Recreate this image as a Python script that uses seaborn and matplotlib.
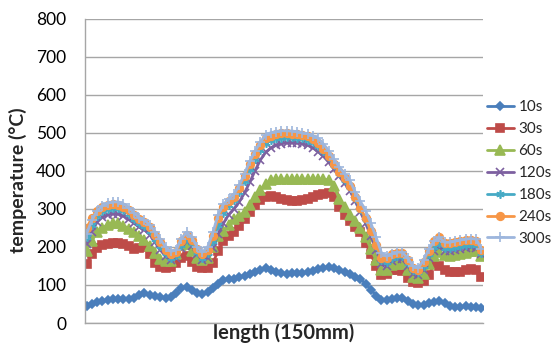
import matplotlib
matplotlib.use("Agg")
import matplotlib.pyplot as plt
import seaborn as sns
import numpy as np
import pandas as pd

# position along the 150 mm length (mm)
length_mm = list(range(0, 151, 2))

t10s = [45, 50, 54, 57, 60, 62, 62, 63, 63, 65, 73, 78, 74, 70, 67, 66, 68, 80, 92, 94,
        86, 78, 76, 82, 92, 102, 112, 115, 116, 120, 124, 128, 135, 140, 144, 140, 134, 131, 130, 131,
        131, 132, 134, 137, 141, 145, 147, 144, 138, 133, 128, 122, 116, 103, 88, 72, 60, 60, 63, 66,
        66, 58, 50, 46, 48, 52, 55, 58, 52, 45, 42, 43, 44, 43, 43, 39]
t30s = [155, 180, 198, 205, 208, 210, 210, 207, 202, 195, 198, 200, 180, 158, 147, 144, 147, 158, 172, 175,
        160, 147, 144, 145, 158, 190, 215, 228, 240, 256, 272, 292, 310, 322, 330, 333, 330, 326, 323, 321,
        321, 323, 327, 332, 336, 339, 341, 330, 305, 285, 268, 252, 240, 210, 180, 150, 125, 128, 138, 140,
        136, 118, 108, 105, 110, 125, 155, 150, 140, 133, 133, 134, 138, 143, 140, 122]
t60s = [190, 215, 240, 250, 258, 263, 262, 256, 248, 238, 228, 218, 203, 185, 168, 162, 162, 180, 205, 208,
        188, 170, 165, 170, 200, 228, 242, 258, 272, 282, 292, 310, 330, 350, 366, 376, 378, 378, 378, 378,
        378, 378, 378, 378, 378, 378, 376, 360, 325, 305, 285, 268, 250, 225, 195, 165, 140, 140, 152, 155,
        155, 138, 122, 118, 130, 155, 175, 186, 178, 175, 178, 182, 185, 188, 190, 175]
t120s = [208, 240, 265, 278, 284, 287, 286, 281, 272, 262, 252, 245, 232, 212, 192, 175, 165, 170, 198, 215,
         203, 180, 166, 172, 198, 235, 262, 285, 300, 318, 342, 370, 400, 428, 448, 460, 467, 471, 473, 474,
         473, 471, 467, 460, 450, 438, 422, 404, 385, 367, 348, 320, 292, 262, 228, 192, 155, 150, 163, 168,
         167, 150, 130, 126, 140, 170, 190, 200, 190, 190, 192, 195, 197, 199, 198, 180]
t180s = [225, 258, 282, 295, 300, 302, 301, 296, 286, 274, 263, 255, 242, 222, 202, 183, 172, 178, 206, 222,
         210, 186, 172, 183, 215, 258, 290, 310, 322, 345, 373, 405, 432, 455, 472, 480, 485, 487, 488, 488,
         487, 485, 481, 475, 466, 452, 435, 415, 395, 376, 357, 328, 300, 272, 240, 203, 165, 160, 172, 176,
         175, 158, 138, 133, 150, 180, 200, 210, 198, 198, 200, 203, 205, 207, 205, 185]
t240s = [250, 275, 295, 305, 310, 312, 311, 306, 296, 283, 272, 265, 252, 232, 212, 192, 180, 186, 215, 230,
         218, 195, 180, 192, 228, 275, 305, 320, 332, 355, 385, 418, 445, 468, 485, 492, 496, 498, 498, 497,
         496, 494, 490, 484, 474, 458, 440, 418, 398, 380, 360, 330, 303, 275, 242, 205, 172, 170, 180, 185,
         184, 165, 145, 140, 160, 190, 215, 226, 210, 210, 212, 215, 217, 218, 215, 192]
t300s = [235, 270, 295, 308, 315, 318, 318, 313, 303, 290, 277, 270, 258, 240, 220, 200, 188, 192, 222, 238,
         225, 200, 186, 200, 238, 285, 312, 326, 338, 362, 392, 425, 452, 475, 494, 500, 503, 505, 505, 504,
         503, 500, 497, 492, 485, 470, 452, 430, 410, 392, 375, 345, 320, 295, 262, 225, 185, 175, 182, 186,
         186, 170, 150, 145, 165, 195, 215, 225, 212, 212, 215, 218, 220, 222, 220, 195]

series_names = ["10s", "30s", "60s", "120s", "180s", "240s", "300s"]
series_values = [t10s, t30s, t60s, t120s, t180s, t240s, t300s]
y_ticks = [0, 100, 200, 300, 400, 500, 600, 700, 800]

colors = ["#4A7EBB", "#BE4B48", "#98B954", "#7D60A0", "#46AAC5", "#F79646", "#9DB6DD"]
markers = ["D", "s", "^", "x", (6, 2, 0), "o", "+"]
msizes = [4.5, 6, 6.5, 5.5, 6, 5.5, 6.5]

sns.set_theme(style="white")
plt.rcParams['font.family'] = ['Lato', 'DejaVu Sans']

fig = plt.figure(figsize=(5.55, 3.49), dpi=100)
ax = fig.add_axes([85 / 555, 26 / 349, 398 / 555, 304.5 / 349])

for name, vals, c, m, ms in zip(series_names, series_values, colors, markers, msizes):
    df = pd.DataFrame({"length": length_mm, "temperature": vals})
    sns.lineplot(data=df, x="length", y="temperature", ax=ax, color=c, marker=m,
                 markersize=ms, markeredgecolor=c, markeredgewidth=1.2,
                 linewidth=2, label=name)

ax.set_xlim(-0.6, 150.6)
ax.set_ylim(0, 800)
ax.set_yticks(y_ticks)
ax.set_yticklabels([str(v) for v in y_ticks], fontsize=12.5)
ax.set_xticks([])
ax.grid(axis="y", color="#A6A6A6", linewidth=1)
ax.set_axisbelow(True)
for s in ["top", "right"]:
    ax.spines[s].set_visible(False)
for s in ["left", "bottom"]:
    ax.spines[s].set_color("#A6A6A6")
    ax.spines[s].set_linewidth(1)
ax.tick_params(axis="y", length=0, pad=13.5, colors="black")

ax.set_xlabel("length (150mm)", fontsize=14.5, fontweight="bold")
ax.set_ylabel("temperature (°C)", fontsize=14, fontweight="bold")
ax.xaxis.label.set_va("center")
ax.xaxis.set_label_coords(0.5, -0.033)
ax.yaxis.label.set_va("center")
ax.yaxis.set_label_coords(-0.168, 0.47)

leg = ax.legend(loc="center left", bbox_to_anchor=(487 / 555, 176 / 349),
                bbox_transform=fig.transFigure, frameon=False, fontsize=11,
                handlelength=1.75, handletextpad=0.3, labelspacing=0.52, borderaxespad=0,
                borderpad=0)

fig.savefig("out.png", dpi=100)
